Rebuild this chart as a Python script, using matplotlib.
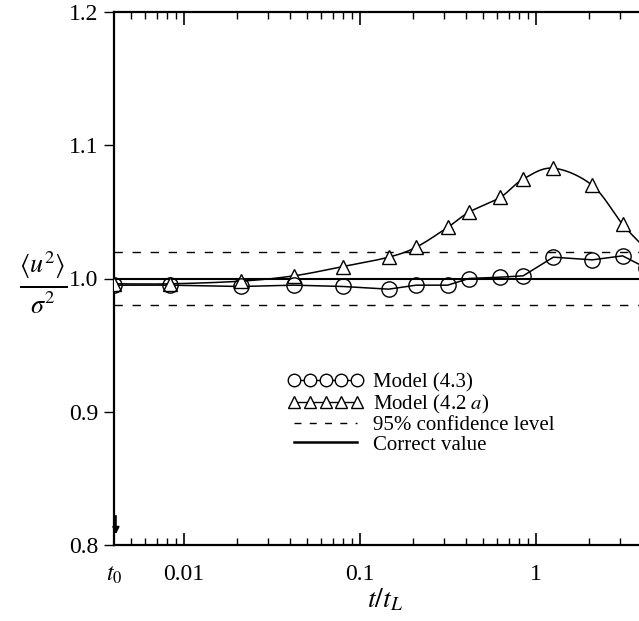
import numpy as np
import matplotlib
matplotlib.use("Agg")
import matplotlib.pyplot as plt
from matplotlib.ticker import FixedLocator, NullFormatter
from matplotlib.lines import Line2D

plt.rcParams['font.family'] = ['Liberation Serif', 'DejaVu Serif']
plt.rcParams['mathtext.fontset'] = 'stix'

# ---- data ----
tri_t = [0.004, 0.0083, 0.021, 0.042, 0.08, 0.145, 0.208, 0.314, 0.415, 0.624, 0.842, 1.25, 2.08, 3.09, 4.2]
tri_v = [0.996, 0.996, 0.998, 1.002, 1.009, 1.016, 1.0235, 1.0384, 1.0498, 1.0609, 1.0746, 1.0828, 1.0699, 1.0407, 1.022]

circ_t = [0.004, 0.0083, 0.021, 0.042, 0.08, 0.145, 0.208, 0.314, 0.415, 0.624, 0.842, 1.25, 2.08, 3.09, 4.2]
circ_v = [0.995, 0.995, 0.994, 0.995, 0.994, 0.992, 0.995, 0.995, 1.000, 1.001, 1.002, 1.016, 1.014, 1.017, 1.008]

correct_value = 1.0
conf_levels = [0.98, 1.02]

x_ticks = [0.004, 0.01, 0.1, 1]
x_ticklabels = ['$t_0$', '0.01', '0.1', '1']
y_ticks = [0.8, 0.9, 1.0, 1.1, 1.2]
y_ticklabels = ['0.8', '0.9', '1.0', '1.1', '1.2']
legend_labels = ['Model (4.3)', 'Model (4.2 $a$)', '95% confidence level', 'Correct value']


def smooth_log(t, v):
    """Catmull-Rom curve through the points (in log-t space) for drawing the line."""
    lx = np.log10(np.asarray(t, float))
    y = np.asarray(v, float)
    px = np.concatenate([[2 * lx[0] - lx[1]], lx, [2 * lx[-1] - lx[-2]]])
    py = np.concatenate([[2 * y[0] - y[1]], y, [2 * y[-1] - y[-2]]])
    xs, ys = [], []
    for i in range(1, len(px) - 2):
        s = np.linspace(0, 1, 30, endpoint=False)
        for arr, out in ((px, xs), (py, ys)):
            p0, p1, p2, p3 = arr[i - 1], arr[i], arr[i + 1], arr[i + 2]
            out.extend(0.5 * ((2 * p1) + (-p0 + p2) * s + (2 * p0 - 5 * p1 + 4 * p2 - p3) * s ** 2
                              + (-p0 + 3 * p1 - 3 * p2 + p3) * s ** 3))
    xs.append(lx[-1]); ys.append(y[-1])
    return 10 ** np.array(xs), np.array(ys)


fig = plt.figure(figsize=(6.39, 6.21), dpi=100)
W, H = 639, 621
AX_L, AX_T, AX_B = 114, 12, 545
ax = fig.add_axes([AX_L / W, (H - AX_B) / H, (W - AX_L) / W, (AX_B - AX_T) / H])
ax.set_xscale('log')
ax.set_xlim(0.004, 3.83)
ax.set_ylim(0.8, 1.2)

# reference lines
ax.axhline(correct_value, color='black', lw=1.5, zorder=2)
for c in conf_levels:
    ax.axhline(c, color='black', lw=1.0, ls=(0, (6, 7)), zorder=2)

# series
sx, sy = smooth_log(tri_t, tri_v)
ax.plot(sx, sy, color='black', lw=1.1, zorder=3)
ax.plot(tri_t, tri_v, ls='none', marker='^', ms=10, mfc='white', mec='black', mew=1.0, zorder=4)
ax.plot(circ_t, circ_v, color='black', lw=1.1, zorder=3)
ax.plot(circ_t, circ_v, ls='none', marker='o', ms=11, mfc='none', mec='black', mew=1.0, zorder=4)

# arrow at t0
ax.annotate('', xy=(0.0041, 0.806), xytext=(0.0041, 0.824),
            arrowprops=dict(arrowstyle='-|>', color='black', lw=1.3, mutation_scale=10))

# spines / ticks
ax.spines['right'].set_visible(False)
for sp in ['left', 'bottom', 'top']:
    ax.spines[sp].set_linewidth(1.6)

ax.xaxis.set_major_locator(FixedLocator(x_ticks))
ax.set_xticklabels(x_ticklabels)
minors = [m * 10.0 ** e for e in (-3, -2, -1, 0) for m in range(2, 10)]
minors = [m for m in minors if 0.004 < m < 3.83]
ax.xaxis.set_minor_locator(FixedLocator(minors))
ax.xaxis.set_minor_formatter(NullFormatter())
ax.tick_params(axis='x', which='major', direction='in', length=9, width=1.2,
               top=True, bottom=True, labelsize=17, pad=14)
ax.tick_params(axis='x', which='minor', direction='in', length=5, width=1.0, top=True, bottom=True)

ax.yaxis.set_major_locator(FixedLocator(y_ticks))
ax.set_yticklabels(y_ticklabels)
ax.yaxis.set_minor_locator(FixedLocator(list(np.arange(0.825, 1.2, 0.025))))
ax.tick_params(axis='y', which='major', direction='out', length=7, width=1.0, labelsize=17, pad=4)
ax.tick_params(axis='y', which='minor', direction='out', length=0)

# legend
handles = [
    Line2D([], [], color='black', lw=1.0, marker='o', ms=9, mfc='white', mec='black'),
    Line2D([], [], color='black', lw=1.0, marker='^', ms=8, mfc='white', mec='black'),
    Line2D([], [], color='black', lw=1.0, ls=(0, (5, 6))),
    Line2D([], [], color='black', lw=1.8),
]
ax.legend(handles, legend_labels, loc='upper left',
          bbox_to_anchor=((288 - AX_L) / (W - AX_L), (AX_B - 373) / (AX_B - AX_T)),
          frameon=False, numpoints=5, handlelength=3.6, handletextpad=0.5,
          labelspacing=0.0, fontsize=15, borderaxespad=0, borderpad=0)

# axis labels
fig.text(43 / W, 1 - 282 / H, r'$\frac{\langle u^2\rangle}{\sigma^2}$', fontsize=27,
         ha='center', va='center')
fig.text(385 / W, 1 - 600 / H, '$t/t_L$', fontsize=20, ha='center', va='center')

fig.savefig('out.png', dpi=100)
